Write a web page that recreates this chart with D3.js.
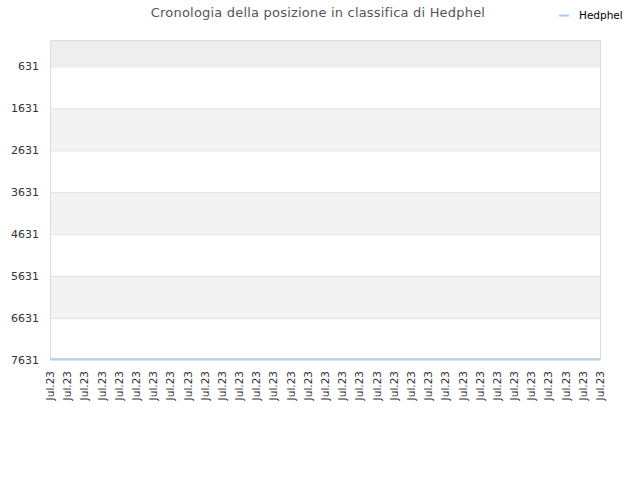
<!DOCTYPE html>
<html>
<head>
<meta charset="utf-8">
<script src="https://cdn.jsdelivr.net/npm/d3@7"></script>
<style>
  body { margin: 0; background: #fff; }
  text { font-family: "DejaVu Sans", sans-serif; }
</style>
</head>
<body>
<script>
// one label per day, all in the same month
const dates = ["Jul.23","Jul.23","Jul.23","Jul.23","Jul.23","Jul.23","Jul.23","Jul.23","Jul.23","Jul.23","Jul.23",
               "Jul.23","Jul.23","Jul.23","Jul.23","Jul.23","Jul.23","Jul.23","Jul.23","Jul.23","Jul.23","Jul.23",
               "Jul.23","Jul.23","Jul.23","Jul.23","Jul.23","Jul.23","Jul.23","Jul.23","Jul.23","Jul.23","Jul.23"];
const ranks = [7631,7631,7631,7631,7631,7631,7631,7631,7631,7631,7631,
               7631,7631,7631,7631,7631,7631,7631,7631,7631,7631,7631,
               7631,7631,7631,7631,7631,7631,7631,7631,7631,7631,7631];
const yTicks = [631,1631,2631,3631,4631,5631,6631,7631];
const seriesName = "Hedphel";
const title = "Cronologia della posizione in classifica di Hedphel";

const W = 640, H = 480;
const mLeft = 50, mRight = 600, mTop = 40, mBottom = 360;

const svg = d3.select("body").append("svg").attr("width", W).attr("height", H);

const x = d3.scalePoint().domain(d3.range(dates.length)).range([mLeft, mRight]);
const y = d3.scaleLinear().domain([0, 7631]).range([mTop, mBottom]);

// bands between ticks
const edges = [0].concat(yTicks);
for (let i = 0; i < edges.length - 1; i++) {
    let fill = "#fff";
    if (i == 0) fill = "#eeeeee";
    else if (i % 2 == 0) fill = "#f3f3f3";
    svg.append("rect")
        .attr("x", mLeft).attr("width", mRight - mLeft)
        .attr("y", y(edges[i])).attr("height", y(edges[i+1]) - y(edges[i]))
        .attr("fill", fill);
}

// grid lines
svg.selectAll(".grid").data(yTicks).enter().append("line")
    .attr("x1", mLeft).attr("x2", mRight)
    .attr("y1", d => y(d) + 0.5).attr("y2", d => y(d) + 0.5)
    .attr("stroke", "#e2e2e2");

// frame
svg.append("rect")
    .attr("x", mLeft + 0.5).attr("y", mTop + 0.5)
    .attr("width", mRight - mLeft).attr("height", mBottom - mTop - 1)
    .attr("fill", "none").attr("stroke", "#dddddd");

// y axis labels
svg.selectAll(".ylab").data(yTicks).enter().append("text")
    .attr("x", 39).attr("y", d => y(d) + 4)
    .attr("text-anchor", "end")
    .attr("font-size", 11).attr("fill", "#333")
    .text(d => d);

// x axis labels
svg.selectAll(".xlab").data(dates).enter().append("text")
    .attr("transform", (d, i) => "translate(" + (x(i) + 4) + ",371) rotate(-90)")
    .attr("text-anchor", "end")
    .attr("font-size", 10.5).attr("fill", "#333")
    .text(d => d);

// series line
const line = d3.line().x((d, i) => x(i)).y(d => y(d) - 1);
svg.append("path")
    .datum(ranks)
    .attr("d", line)
    .attr("fill", "none")
    .attr("stroke", "#a8cbf0")
    .attr("stroke-width", 1.5);

// title
svg.append("text")
    .attr("x", 318).attr("y", 17)
    .attr("text-anchor", "middle")
    .attr("font-size", 13).attr("fill", "#555")
    .attr("letter-spacing", 0.2)
    .text(title);

// legend
svg.append("line")
    .attr("x1", 559).attr("x2", 569).attr("y1", 15.5).attr("y2", 15.5)
    .attr("stroke", "#a8cbf0").attr("stroke-width", 2);
svg.append("text")
    .attr("x", 579).attr("y", 19)
    .attr("font-size", 10.5).attr("fill", "#000")
    .text(seriesName);
</script>
</body>
</html>
